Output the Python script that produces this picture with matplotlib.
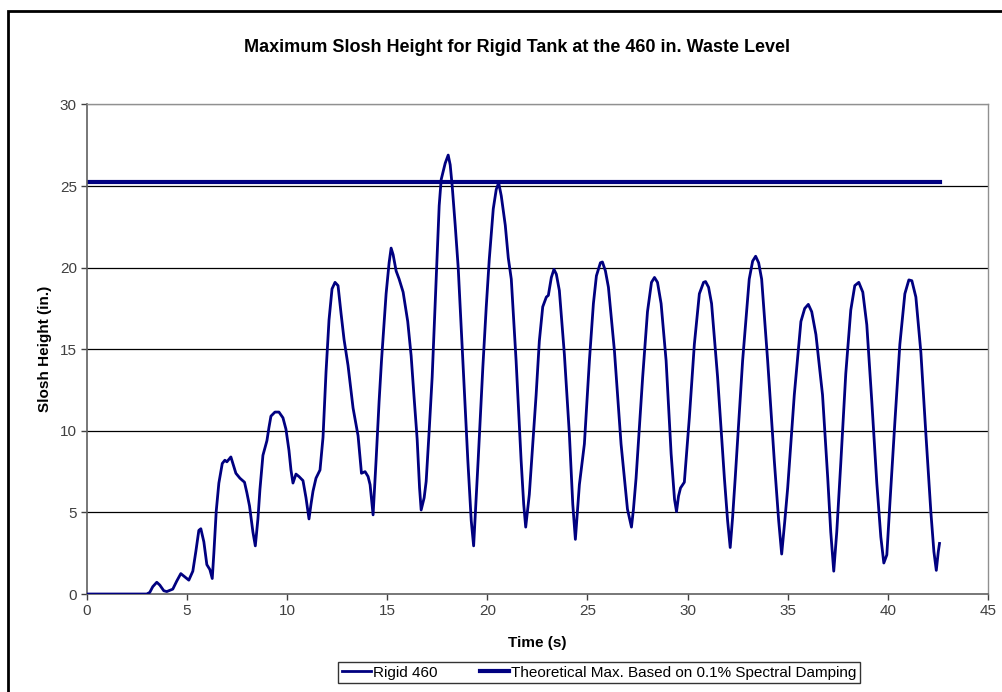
import matplotlib
matplotlib.use("Agg")
import matplotlib.pyplot as plt
from matplotlib.patches import Rectangle

plt.rcParams['font.family'] = ['Liberation Sans', 'DejaVu Sans']

# Rigid 460 slosh height
time_s = [0, 3.0, 3.15, 3.3, 3.5, 3.65, 3.85, 4.0, 4.3, 4.5, 4.7, 4.9, 5.1, 5.3, 5.45,
          5.6, 5.7, 5.85, 6.0, 6.15, 6.27, 6.35, 6.47, 6.6, 6.77, 6.9, 7.0, 7.2, 7.3,
          7.45, 7.65, 7.88, 8.0, 8.13, 8.3, 8.42, 8.55, 8.65, 8.8, 9.0, 9.1, 9.2, 9.4,
          9.6, 9.8, 9.95, 10.1, 10.2, 10.3, 10.45, 10.6, 10.8, 10.95, 11.1, 11.2, 11.3,
          11.45, 11.65, 11.8, 11.95, 12.1, 12.25, 12.4, 12.55, 12.7, 12.85, 13.05, 13.3,
          13.55, 13.72, 13.9, 14.05, 14.15, 14.3, 14.45, 14.6, 14.72, 14.95, 15.1, 15.2,
          15.3, 15.45, 15.6, 15.8, 16.03, 16.2, 16.35, 16.5, 16.62, 16.7, 16.85, 16.95,
          17.1, 17.25, 17.45, 17.6, 17.7, 17.9, 18.05, 18.15, 18.25, 18.4, 18.55, 18.78,
          19.03, 19.2, 19.32, 19.45, 19.55, 19.78, 19.95, 20.1, 20.3, 20.45, 20.57, 20.7,
          20.9, 21.05, 21.2, 21.44, 21.69, 21.82, 21.92, 22.0, 22.1, 22.25, 22.44, 22.6,
          22.77, 22.95, 23.05, 23.2, 23.33, 23.45, 23.6, 23.85, 24.1, 24.27, 24.4, 24.5,
          24.6, 24.85, 25.1, 25.3, 25.45, 25.65, 25.75, 25.9, 26.05, 26.35, 26.68, 27.0,
          27.2, 27.3, 27.43, 27.6, 27.76, 28.0, 28.2, 28.35, 28.5, 28.68, 28.93, 29.18,
          29.35, 29.45, 29.55, 29.65, 29.84, 30.09, 30.34, 30.59, 30.8, 30.9, 31.05, 31.2,
          31.5, 31.84, 32.0, 32.13, 32.25, 32.38, 32.75, 33.08, 33.25, 33.4, 33.55, 33.7,
          34.0, 34.33, 34.55, 34.7, 34.85, 35.0, 35.33, 35.66, 35.85, 36.03, 36.2, 36.41,
          36.74, 37.0, 37.15, 37.3, 37.45, 37.65, 37.9, 38.15, 38.35, 38.55, 38.75, 38.95,
          39.2, 39.45, 39.65, 39.8, 39.95, 40.1, 40.35, 40.6, 40.85, 41.05, 41.2, 41.4,
          41.65, 41.9, 42.15, 42.3, 42.42, 42.52, 42.58]
rigid_460 = [0, 0, 0.1, 0.45, 0.72, 0.55, 0.2, 0.15, 0.3, 0.8, 1.25, 1.05, 0.85, 1.4, 2.6,
             3.9, 4.0, 3.2, 1.8, 1.5, 0.95, 2.5, 5.1, 6.8, 8.0, 8.2, 8.1, 8.4, 8.0,
             7.4, 7.1, 6.85, 6.2, 5.4, 3.8, 2.95, 4.6, 6.4, 8.5, 9.4, 10.2, 10.9, 11.15,
             11.15, 10.8, 10.1, 8.8, 7.6, 6.8, 7.35, 7.2, 6.95, 5.9, 4.6, 5.5, 6.3,
             7.1, 7.6, 9.6, 13.6, 16.8, 18.7, 19.1, 18.9, 17.2, 15.6, 14.0, 11.4,
             9.7, 7.4, 7.5, 7.2, 6.7, 4.85, 8.2, 11.8, 14.3, 18.4, 20.3, 21.2,
             20.8, 19.8, 19.3, 18.5, 16.7, 14.6, 12.0, 9.5, 6.5, 5.15, 5.9, 6.9,
             10.0, 13.3, 19.3, 23.8, 25.4, 26.4, 26.9, 26.3, 25.0, 22.6, 20.0, 14.3,
             8.2, 4.5, 2.95, 6.0, 8.3, 13.9, 17.6, 20.5, 23.6, 24.8, 25.2, 24.4,
             22.6, 20.6, 19.3, 14.3, 8.2, 5.5, 4.1, 5.0, 6.1, 8.8, 12.2, 15.5,
             17.6, 18.2, 18.3, 19.4, 19.9, 19.6, 18.6, 14.7, 9.8, 5.5, 3.35, 5.0,
             6.7, 9.2, 14.3, 17.8, 19.5, 20.3, 20.35, 19.8, 18.8, 14.9, 9.2, 5.2,
             4.1, 5.2, 7.1, 10.3, 13.3, 17.3, 19.1, 19.4, 19.1, 17.8, 14.3, 8.6,
             5.8, 5.05, 6.0, 6.5, 6.85, 10.8, 15.3, 18.4, 19.1, 19.15, 18.8, 17.8,
             13.3, 7.1, 4.5, 2.85, 4.7, 7.1, 14.3, 19.3, 20.4, 20.7, 20.3, 19.3,
             14.3, 8.2, 4.5, 2.45, 4.4, 6.5, 12.2, 16.7, 17.5, 17.75, 17.3, 15.9,
             12.2, 7.1, 3.8, 1.4, 3.8, 8.0, 13.5, 17.4, 18.9, 19.1, 18.5, 16.5,
             11.8, 6.8, 3.5, 1.9, 2.4, 5.5, 10.5, 15.3, 18.4, 19.25, 19.2, 18.2,
             14.8, 9.8, 5.0, 2.6, 1.45, 2.6, 3.1]

theory_time = [0, 42.6]
theory_max = [25.25, 25.25]

x_ticks = [0, 5, 10, 15, 20, 25, 30, 35, 40, 45]
y_ticks = [0, 5, 10, 15, 20, 25, 30]

navy = '#000080'

fig = plt.figure(figsize=(10.02, 6.92), dpi=100)
ax = fig.add_axes([0.0865, 0.1416, 0.8995, 0.7074])

for yv in y_ticks[1:]:
    ax.axhline(yv, color='black' if yv < 30 else '#808080', lw=0.9, zorder=1)

ax.plot(time_s, rigid_460, color=navy, lw=2.0, label='Rigid 460', zorder=3)
ax.plot(theory_time, theory_max, color=navy, lw=3.0,
        label='Theoretical Max. Based on 0.1% Spectral Damping', zorder=2)

ax.set_xlim(0, 45)
ax.set_ylim(0, 30)
ax.set_xticks(x_ticks)
ax.set_yticks(y_ticks)
ax.tick_params(labelsize=11, colors='#404040', length=4, width=1, pad=3)
for side in ['left', 'bottom']:
    ax.spines[side].set_color('#606060')
    ax.spines[side].set_linewidth(1.2)
for side in ['right', 'top']:
    ax.spines[side].set_color('#909090')
    ax.spines[side].set_linewidth(1.0)

fig.text(517 / 1002, 1 - 47 / 692,
         'Maximum Slosh Height for Rigid Tank at the 460 in. Waste Level',
         fontsize=13, fontweight='bold', ha='center', va='center')
ax.set_xlabel('Time (s)', fontsize=11, fontweight='bold', labelpad=13)
ax.set_ylabel('Slosh Height (in.)', fontsize=11, fontweight='bold', labelpad=6)

leg = fig.legend(loc='center', bbox_to_anchor=(599 / 1002, 1 - 672.5 / 692), ncol=2,
                 fontsize=11, frameon=True, fancybox=False, borderpad=0.25,
                 handlelength=1.9, handletextpad=0.1, columnspacing=2.8)
leg.get_frame().set_edgecolor('black')
leg.get_frame().set_linewidth(1.0)

# outer chart border (only left and top are inside the picture)
fig.patches.append(Rectangle((8 / 1002, -0.1), 1.2, 1 - 11 / 692 + 0.1,
                             transform=fig.transFigure, fill=False,
                             edgecolor='black', lw=2))

fig.savefig('out.png', dpi=100)
